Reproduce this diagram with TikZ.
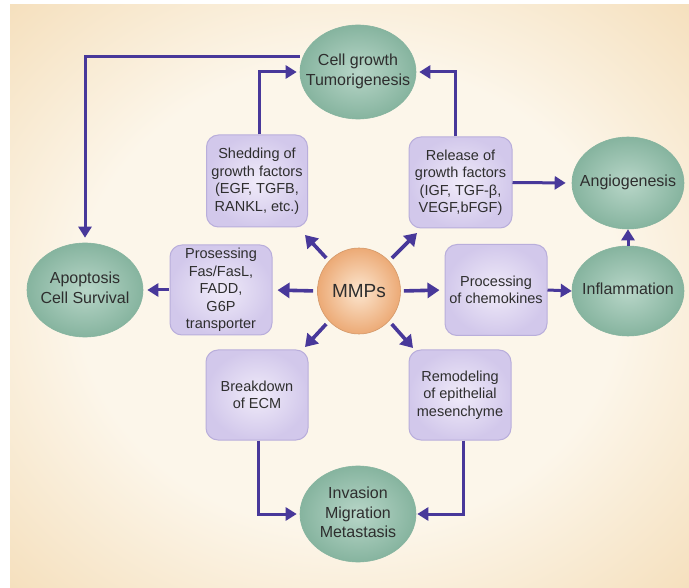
\documentclass[tikz,border=0pt]{standalone}
\usepackage{fontspec}
\setmainfont{Liberation Sans}
\usetikzlibrary{shapes.geometric,arrows.meta}
\definecolor{bgin}{HTML}{FCF6EA}
\definecolor{bgout}{HTML}{F0CF9C}
\definecolor{gin}{HTML}{B8D6C8}
\definecolor{gout}{HTML}{86B49F}
\definecolor{oin}{HTML}{FCE6CF}
\definecolor{oout}{HTML}{ECAA76}
\definecolor{lin}{HTML}{F0EBF9}
\definecolor{lout}{HTML}{D2C8EB}
\definecolor{lborder}{HTML}{B9AEDB}
\definecolor{arr}{HTML}{48389A}
\definecolor{txt}{HTML}{2E2E2E}
\pgfdeclareradialshading{bgshade}{\pgfpoint{0bp}{0bp}}{color(0bp)=(bgin); color(20bp)=(bgin); color(47bp)=(bgout); color(50bp)=(bgout)}
\newcommand{\ctext}[1]{\makebox[0pt][c]{\begin{tabular}{@{}c@{}}#1\end{tabular}}}
\begin{document}
\begin{tikzpicture}[x=1pt,y=-1pt,
  oval/.style={ellipse, inner sep=0pt, minimum width=116pt, minimum height=94pt,
    inner color=gin, outer color=gout, draw=gout, line width=0.6pt, text=txt,
    font=\fontsize{16}{20}\selectfont},
  mbox/.style={rectangle, rounded corners=12pt, minimum width=102pt, minimum height=90pt,
    inner sep=2pt, align=center, inner color=lin, outer color=lout, draw=lborder,
    line width=1pt, text=txt, font=\fontsize{14.5}{17.5}\selectfont},
  link/.style={draw=arr, line width=3pt, -{Triangle[length=11pt,width=13pt]}},
  mlink/.style={draw=arr, line width=3.6pt, -{Triangle[length=12pt,width=15pt]}}
]
\useasboundingbox (0,0) rectangle (689,588);
\fill[white] (0,0) rectangle (689,588);
\shade[shading=bgshade] (10,5) rectangle (689,588);

% ovals
\node[oval] (cg)  at (358,72)  {\ctext{Cell growth\\Tumorigenesis}};
\node[oval, minimum width=112pt, minimum height=92pt] (ang) at (628,183) {\ctext{Angiogenesis}};
\node[oval, minimum width=112pt, minimum height=90pt] (inf) at (628,291) {\ctext{Inflammation}};
\node[oval] (apo) at (85,290)  {\ctext{Apoptosis\\Cell Survival}};
\node[oval, minimum height=96pt] (inv) at (358,514) {\ctext{Invasion\\Migration\\Metastasis}};
\node[ellipse, inner sep=0pt, minimum width=83pt, minimum height=86pt,
  inner color=oin, outer color=oout, draw=oout!90!black, line width=0.6pt, text=txt,
  font=\fontsize{19}{22}\selectfont] (mmp) at (359,291) {MMPs};

% boxes
\node[mbox, minimum width=101pt, minimum height=92pt] (shed) at (257,181) {Shedding of\\growth factors\\(EGF, TGFB,\\RANKL, etc.)};
\node[mbox, minimum width=103pt, minimum height=91pt] (rel) at (460.5,182.5) {Release of\\growth factors\\(IGF, TGF-β,\\VEGF,bFGF)};
\node[mbox] (pro) at (221,290) {Prosessing\\Fas/FasL,\\FADD,\\G6P\\transporter};
\node[mbox, minimum height=91pt] (che) at (496,290) {Processing\\of chemokines};
\node[mbox] (brk) at (257,395) {Breakdown\\of ECM};
\node[mbox] (rem) at (460,395) {Remodeling\\of epithelial\\mesenchyme};

% free ends of the diagonal arrows
\coordinate (ul) at (305,235);
\coordinate (ur) at (417,233);
\coordinate (ll) at (305,347);
\coordinate (lr) at (413,348);

% connectors
\draw[link, line cap=butt, shorten >=5pt] ([yshift=15pt]cg.west) -| (apo.north);
\draw[link, shorten >=3pt] ([xshift=2pt]shed.north) |- (cg.west);
\draw[link, shorten >=3pt] ([xshift=-5pt]rel.north) |- (cg.east);
\draw[link, shorten >=6pt] (rel.east) -- (ang.west);
\draw[link] (inf.north) -- (ang.south);
\draw[link] (che.east) -- (inf.west);
\draw[link, shorten <=1pt, shorten >=4pt] (pro.west) -- (apo.east);
\draw[link, shorten >=3pt] ([xshift=1pt]brk.south) |- (inv.west);
\draw[link, shorten >=1pt] ([xshift=3pt]rem.south) |- (inv.east);

\draw[mlink, shorten <=4pt, shorten >=5pt] (mmp.west) -- (pro.east);
\draw[mlink, shorten <=3pt, shorten >=5pt] (mmp.east) -- (che.west);
\draw[mlink, shorten <=4pt] (mmp.135) -- (ul);
\draw[mlink, shorten <=4pt] (mmp.45) -- (ur);
\draw[mlink, shorten <=4pt] (mmp.225) -- (ll);
\draw[mlink, shorten <=4pt] (mmp.315) -- (lr);
\end{tikzpicture}
\end{document}
